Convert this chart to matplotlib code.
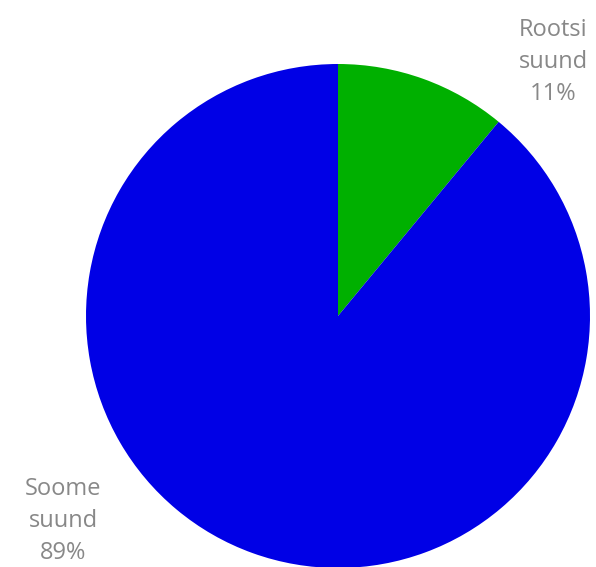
import matplotlib.pyplot as plt

labels = ['Rootsi\nsuund', 'Soome\nsuund']
values = [11, 89]
colors = ['#00b000', '#0000e6']
# label positions in axes data units (pie radius = 1)
label_pos = [(0.855, 1.008), (-1.09, -0.815)]

plt.rcParams['font.family'] = ['Open Sans', 'DejaVu Sans']

fig = plt.figure(figsize=(5.96, 5.67), dpi=100)
ax = fig.add_axes([86 / 596, -1 / 567, 504 / 596, 504 / 567])
ax.pie(values, colors=colors, startangle=90, counterclock=False,
       radius=1, wedgeprops={'linewidth': 0})
ax.set_xlim(-1, 1)
ax.set_ylim(-1, 1)
ax.set_aspect('equal')
ax.axis('off')

for lab, v, (x, y) in zip(labels, values, label_pos):
    ax.text(x, y, f'{lab}\n{v}%', ha='center', va='center', fontsize=17,
            color='#888888', linespacing=1.45, clip_on=False)

fig.savefig('out.png', dpi=100)
